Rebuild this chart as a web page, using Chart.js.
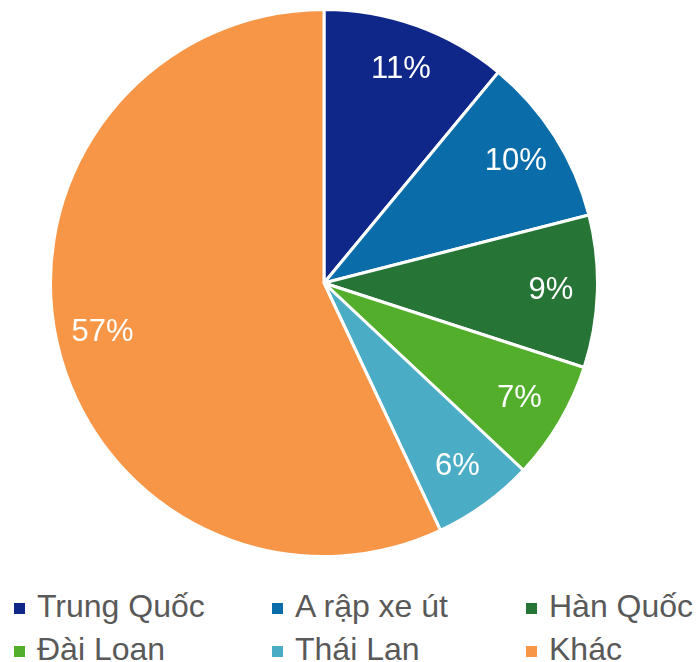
<!DOCTYPE html>
<html>
<head>
<meta charset="utf-8">
<script src="https://cdn.jsdelivr.net/npm/chart.js@4"></script>
<style>
  html, body { margin: 0; padding: 0; background: #fff; }
  body { width: 697px; height: 662px; position: relative; overflow: hidden; font-family: "Liberation Sans", Arial, sans-serif; }
  #pieWrap { position: absolute; left: 49px; top: 8px; width: 550px; height: 550px; }
  .lg-item { position: absolute; font-size: 32px; line-height: 32px; color: #595959; white-space: nowrap; }
  .lg-box { position: absolute; width: 11px; height: 11px; }
</style>
</head>
<body>
<div id="pieWrap"><canvas id="pieChart"></canvas></div>
<div id="legend"></div>
<script>
  const categories = ["Trung Quốc", "A rập xe út", "Hàn Quốc", "Đài Loan", "Thái Lan", "Khác"];
  const shares = [11, 10, 9, 7, 6, 57];
  const colors = ["#10278A", "#0A6CA8", "#267436", "#52AE2B", "#4BACC6", "#F79646"];

  // percent labels inside slices
  const sliceLabels = {
    id: "sliceLabels",
    afterDatasetsDraw(chart) {
      const ctx = chart.ctx;
      const total = shares.reduce((a, b) => a + b, 0);
      ctx.save();
      ctx.font = '31px "Liberation Sans", Arial, sans-serif';
      ctx.fillStyle = "#fff";
      ctx.textAlign = "center";
      ctx.textBaseline = "middle";
      chart.getDatasetMeta(0).data.forEach((arc, i) => {
        const p = arc.getProps(["x", "y", "startAngle", "endAngle", "outerRadius"], true);
        const mid = (p.startAngle + p.endAngle) / 2;
        const r = p.outerRadius * 0.83;
        ctx.fillText(Math.round(shares[i] / total * 100) + "%", p.x + Math.cos(mid) * r, p.y + Math.sin(mid) * r);
      });
      ctx.restore();
    }
  };

  new Chart(document.getElementById("pieChart"), {
    type: "pie",
    data: {
      labels: categories,
      datasets: [{ data: shares, backgroundColor: colors, borderColor: "#fff", borderWidth: 3 }]
    },
    options: {
      responsive: true,
      maintainAspectRatio: false,
      animation: false,
      layout: { padding: 0 },
      plugins: { legend: { display: false }, tooltip: { enabled: false } }
    },
    plugins: [sliceLabels]
  });

  // legend in a 3-column grid
  const colX = [14, 272, 526];
  const rowTop = [590, 633];
  const legend = document.getElementById("legend");
  categories.forEach((name, i) => {
    const x = colX[i % 3], y = rowTop[Math.floor(i / 3)];
    const box = document.createElement("div");
    box.className = "lg-box";
    box.style.left = x + "px";
    box.style.top = (y + 13) + "px";
    box.style.background = colors[i];
    legend.appendChild(box);
    const t = document.createElement("div");
    t.className = "lg-item";
    t.style.left = (x + 23) + "px";
    t.style.top = y + "px";
    t.textContent = name;
    legend.appendChild(t);
  });
</script>
</body>
</html>
